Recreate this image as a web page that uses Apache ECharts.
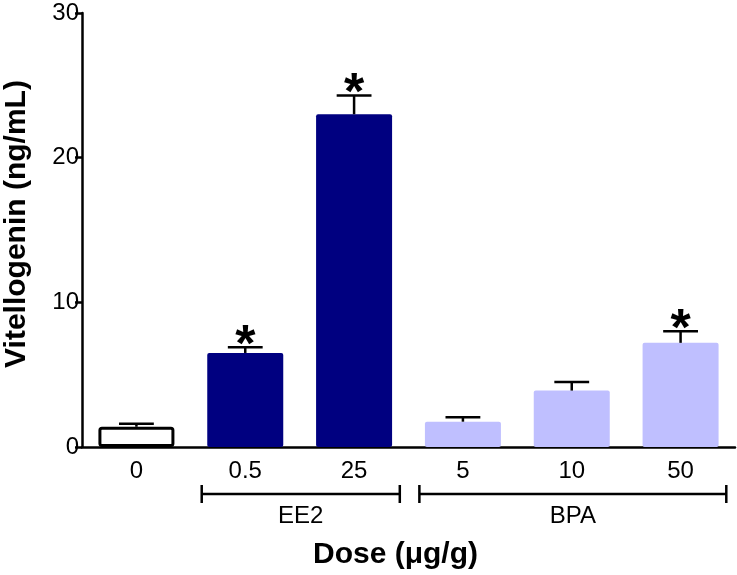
<!DOCTYPE html>
<html>
<head>
<meta charset="utf-8">
<script src="https://cdn.jsdelivr.net/npm/echarts@6/dist/echarts.min.js"></script>
<style>
  html, body { margin: 0; padding: 0; background: #fff; }
  #main { width: 737px; height: 575px; }
</style>
</head>
<body>
<div id="main"></div>
<script>
// doses and measured values
var doses = ['0', '0.5', '25', '5', '10', '50'];
var means = [1.4, 6.5, 23.0, 1.75, 3.9, 7.2];
var errors = [0.2, 0.4, 1.3, 0.3, 0.6, 0.8];
var significant = [0, 1, 1, 0, 0, 1];
var yTicks = [0, 10, 20, 30];

// treatment groups under the axis
var groupNames = ['EE2', 'BPA'];
var groupStart = [1, 3];
var groupEnd = [2, 5];

var NAVY = '#000080';
var LAVENDER = '#bfbfff';
var FONT = 'Liberation Sans, Arial, sans-serif';

function barColor(i) {
  if (i === 0) return '#ffffff';
  if (i <= 2) return NAVY;
  return LAVENDER;
}

var barData = means.map(function (v, i) {
  var item = { value: v, itemStyle: { color: barColor(i), borderRadius: 2 } };
  if (i === 0) {
    item.itemStyle.borderColor = '#000';
    item.itemStyle.borderWidth = 3;
  }
  return item;
});

var errData = means.map(function (v, i) {
  return [i, v, errors[i], significant[i]];
});

var groupData = groupNames.map(function (n, i) {
  return [groupStart[i], groupEnd[i], i];
});

var chart = echarts.init(document.getElementById('main'));

chart.setOption({
  animation: false,
  backgroundColor: '#fff',
  grid: { left: 82, right: 2, top: 13, bottom: 128, containLabel: false, outerBoundsMode: 'none' },
  xAxis: {
    type: 'category',
    data: doses,
    axisLine: { lineStyle: { color: '#000', width: 2.5 } },
    axisTick: { alignWithLabel: true, length: 7, lineStyle: { color: '#000', width: 2.5 } },
    axisLabel: { color: '#000', fontSize: 24, fontFamily: FONT, margin: 12 },
    name: 'Dose (\u03bcg/g)',
    nameLocation: 'middle',
    nameGap: 93,
    nameTextStyle: {
      color: '#000', fontSize: 30, fontWeight: 'bold', fontFamily: FONT,
      padding: [0, 26, 0, 0]
    }
  },
  yAxis: {
    type: 'value',
    min: yTicks[0],
    max: yTicks[yTicks.length - 1],
    interval: 10,
    splitLine: { show: false },
    axisLine: { show: true, lineStyle: { color: '#000', width: 2.5 } },
    axisTick: { show: true, length: 7, lineStyle: { color: '#000', width: 2.5 } },
    axisLabel: { color: '#000', fontSize: 24, fontFamily: FONT, margin: 3 },
    name: 'Vitellogenin (ng/mL)',
    nameLocation: 'middle',
    nameGap: 50,
    nameTextStyle: {
      color: '#000', fontSize: 30, fontWeight: 'bold', fontFamily: FONT,
      padding: [0, 0, 0, 12]
    }
  },
  series: [
    {
      type: 'bar',
      data: barData,
      barWidth: 76,
      z: 2
    },
    {
      type: 'custom',
      data: errData,
      encode: { x: 0, y: 1 },
      z: 3,
      renderItem: function (params, api) {
        var i = api.value(0);
        var m = api.value(1);
        var e = api.value(2);
        var sig = api.value(3);
        var p0 = api.coord([i, m]);
        var p1 = api.coord([i, m + e]);
        var half = api.size([1, 0])[0] * 0.16;
        var style = { stroke: '#000', lineWidth: 2.5, fill: null };
        var kids = [
          { type: 'line', shape: { x1: p0[0], y1: p0[1], x2: p1[0], y2: p1[1] }, style: style },
          { type: 'line', shape: { x1: p1[0] - half, y1: p1[1], x2: p1[0] + half, y2: p1[1] }, style: style }
        ];
        if (sig) {
          kids.push({
            type: 'text',
            style: {
              text: '*', x: p1[0], y: p1[1] - 1,
              align: 'center', verticalAlign: 'middle',
              fontSize: 52, fontWeight: 'bold', fontFamily: FONT, fill: '#000'
            }
          });
        }
        return { type: 'group', children: kids };
      }
    },
    {
      type: 'custom',
      data: groupData,
      encode: { x: [0, 1] },
      clip: false,
      silent: true,
      renderItem: function (params, api) {
        var a = api.coord([api.value(0), 0]);
        var b = api.coord([api.value(1), 0]);
        var band = api.size([1, 0])[0];
        var x1 = a[0] - band * 0.4;
        var x2 = b[0] + band * 0.42;
        var y = a[1] + 47;
        var style = { stroke: '#000', lineWidth: 2.5, fill: null };
        return {
          type: 'group',
          children: [
            { type: 'line', shape: { x1: x1, y1: y, x2: x2, y2: y }, style: style },
            { type: 'line', shape: { x1: x1, y1: y - 9, x2: x1, y2: y + 9 }, style: style },
            { type: 'line', shape: { x1: x2, y1: y - 9, x2: x2, y2: y + 9 }, style: style },
            {
              type: 'text',
              style: {
                text: groupNames[api.value(2)], x: (x1 + x2) / 2, y: y + 22,
                align: 'center', verticalAlign: 'middle',
                fontSize: 24, fontFamily: FONT, fill: '#000'
              }
            }
          ]
        };
      }
    }
  ]
});
</script>
</body>
</html>
